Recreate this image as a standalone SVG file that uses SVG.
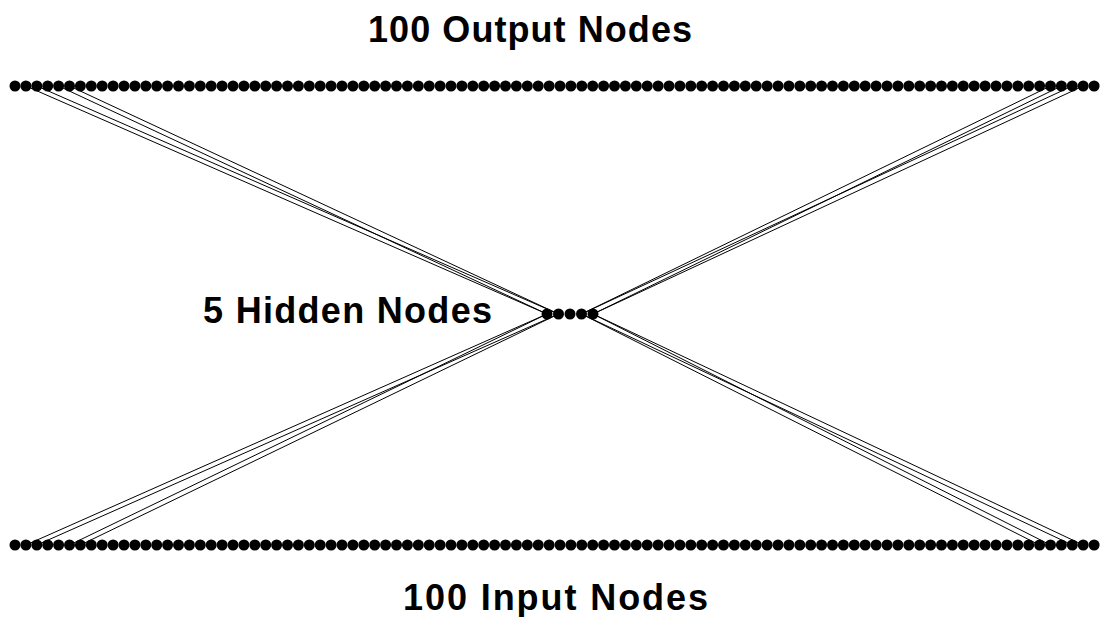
<svg xmlns="http://www.w3.org/2000/svg" xmlns:xlink="http://www.w3.org/1999/xlink" width="1107" height="617" viewBox="0 0 1107 617">
  <style>
    .n { fill: #000; }
    .c { stroke: #000; stroke-width: 1; fill: none; }
    .lbl { font-family: "Liberation Sans", Arial, sans-serif; font-weight: bold; font-size: 36px; fill: #000; }
  </style>
  <defs>
    <circle id="dot" r="5.5" cx="0" cy="0"/>
  </defs>
  <rect width="1107" height="617" fill="#fff"/>

  <!-- connections: a few sample links from edge units to the hidden layer -->
  <g id="connectors" class="c">
    <line x1="25.9" y1="86" x2="547" y2="314"/>
    <line x1="36.8" y1="86" x2="558.5" y2="314"/>
    <line x1="58.6" y1="86" x2="547" y2="314"/>
    <line x1="69.5" y1="86" x2="558.5" y2="314"/>
    <line x1="1050.5" y1="86" x2="581.5" y2="314"/>
    <line x1="1061.4" y1="86" x2="593" y2="314"/>
    <line x1="1072.3" y1="86" x2="581.5" y2="314"/>
    <line x1="1083.2" y1="86" x2="593" y2="314"/>
    <line x1="25.9" y1="545" x2="547" y2="314"/>
    <line x1="36.8" y1="545" x2="558.5" y2="314"/>
    <line x1="69.5" y1="545" x2="547" y2="314"/>
    <line x1="80.4" y1="545" x2="558.5" y2="314"/>
    <line x1="1039.6" y1="545" x2="581.5" y2="314"/>
    <line x1="1050.5" y1="545" x2="593" y2="314"/>
    <line x1="1072.3" y1="545" x2="581.5" y2="314"/>
    <line x1="1083.2" y1="545" x2="593" y2="314"/>
  </g>

  <!-- output layer -->
  <g id="output-layer" class="n">
    <use id="o0" href="#dot" x="15" y="86"/><use id="o1" href="#dot" x="25.9" y="86"/><use id="o2" href="#dot" x="36.8" y="86"/><use id="o3" href="#dot" x="47.7" y="86"/><use id="o4" href="#dot" x="58.6" y="86"/><use id="o5" href="#dot" x="69.5" y="86"/><use id="o6" href="#dot" x="80.4" y="86"/><use id="o7" href="#dot" x="91.3" y="86"/><use id="o8" href="#dot" x="102.2" y="86"/><use id="o9" href="#dot" x="113.1" y="86"/>
    <use id="o10" href="#dot" x="124" y="86"/><use id="o11" href="#dot" x="134.9" y="86"/><use id="o12" href="#dot" x="145.8" y="86"/><use id="o13" href="#dot" x="156.7" y="86"/><use id="o14" href="#dot" x="167.6" y="86"/><use id="o15" href="#dot" x="178.5" y="86"/><use id="o16" href="#dot" x="189.4" y="86"/><use id="o17" href="#dot" x="200.3" y="86"/><use id="o18" href="#dot" x="211.2" y="86"/><use id="o19" href="#dot" x="222.1" y="86"/>
    <use id="o20" href="#dot" x="233" y="86"/><use id="o21" href="#dot" x="243.9" y="86"/><use id="o22" href="#dot" x="254.8" y="86"/><use id="o23" href="#dot" x="265.7" y="86"/><use id="o24" href="#dot" x="276.6" y="86"/><use id="o25" href="#dot" x="287.5" y="86"/><use id="o26" href="#dot" x="298.4" y="86"/><use id="o27" href="#dot" x="309.3" y="86"/><use id="o28" href="#dot" x="320.2" y="86"/><use id="o29" href="#dot" x="331.1" y="86"/>
    <use id="o30" href="#dot" x="342" y="86"/><use id="o31" href="#dot" x="352.9" y="86"/><use id="o32" href="#dot" x="363.8" y="86"/><use id="o33" href="#dot" x="374.7" y="86"/><use id="o34" href="#dot" x="385.6" y="86"/><use id="o35" href="#dot" x="396.5" y="86"/><use id="o36" href="#dot" x="407.4" y="86"/><use id="o37" href="#dot" x="418.3" y="86"/><use id="o38" href="#dot" x="429.2" y="86"/><use id="o39" href="#dot" x="440.1" y="86"/>
    <use id="o40" href="#dot" x="451" y="86"/><use id="o41" href="#dot" x="461.9" y="86"/><use id="o42" href="#dot" x="472.8" y="86"/><use id="o43" href="#dot" x="483.7" y="86"/><use id="o44" href="#dot" x="494.6" y="86"/><use id="o45" href="#dot" x="505.5" y="86"/><use id="o46" href="#dot" x="516.4" y="86"/><use id="o47" href="#dot" x="527.3" y="86"/><use id="o48" href="#dot" x="538.2" y="86"/><use id="o49" href="#dot" x="549.1" y="86"/>
    <use id="o50" href="#dot" x="560" y="86"/><use id="o51" href="#dot" x="570.9" y="86"/><use id="o52" href="#dot" x="581.8" y="86"/><use id="o53" href="#dot" x="592.7" y="86"/><use id="o54" href="#dot" x="603.6" y="86"/><use id="o55" href="#dot" x="614.5" y="86"/><use id="o56" href="#dot" x="625.4" y="86"/><use id="o57" href="#dot" x="636.3" y="86"/><use id="o58" href="#dot" x="647.2" y="86"/><use id="o59" href="#dot" x="658.1" y="86"/>
    <use id="o60" href="#dot" x="669" y="86"/><use id="o61" href="#dot" x="679.9" y="86"/><use id="o62" href="#dot" x="690.8" y="86"/><use id="o63" href="#dot" x="701.7" y="86"/><use id="o64" href="#dot" x="712.6" y="86"/><use id="o65" href="#dot" x="723.5" y="86"/><use id="o66" href="#dot" x="734.4" y="86"/><use id="o67" href="#dot" x="745.3" y="86"/><use id="o68" href="#dot" x="756.2" y="86"/><use id="o69" href="#dot" x="767.1" y="86"/>
    <use id="o70" href="#dot" x="778" y="86"/><use id="o71" href="#dot" x="788.9" y="86"/><use id="o72" href="#dot" x="799.8" y="86"/><use id="o73" href="#dot" x="810.7" y="86"/><use id="o74" href="#dot" x="821.6" y="86"/><use id="o75" href="#dot" x="832.5" y="86"/><use id="o76" href="#dot" x="843.4" y="86"/><use id="o77" href="#dot" x="854.3" y="86"/><use id="o78" href="#dot" x="865.2" y="86"/><use id="o79" href="#dot" x="876.1" y="86"/>
    <use id="o80" href="#dot" x="887" y="86"/><use id="o81" href="#dot" x="897.9" y="86"/><use id="o82" href="#dot" x="908.8" y="86"/><use id="o83" href="#dot" x="919.7" y="86"/><use id="o84" href="#dot" x="930.6" y="86"/><use id="o85" href="#dot" x="941.5" y="86"/><use id="o86" href="#dot" x="952.4" y="86"/><use id="o87" href="#dot" x="963.3" y="86"/><use id="o88" href="#dot" x="974.2" y="86"/><use id="o89" href="#dot" x="985.1" y="86"/>
    <use id="o90" href="#dot" x="996" y="86"/><use id="o91" href="#dot" x="1006.9" y="86"/><use id="o92" href="#dot" x="1017.8" y="86"/><use id="o93" href="#dot" x="1028.7" y="86"/><use id="o94" href="#dot" x="1039.6" y="86"/><use id="o95" href="#dot" x="1050.5" y="86"/><use id="o96" href="#dot" x="1061.4" y="86"/><use id="o97" href="#dot" x="1072.3" y="86"/><use id="o98" href="#dot" x="1083.2" y="86"/><use id="o99" href="#dot" x="1094.1" y="86"/>
  </g>

  <!-- hidden layer -->
  <g id="hidden-layer" class="n">
    <use id="h0" href="#dot" x="547" y="314"/>
    <use id="h1" href="#dot" x="558.5" y="314"/>
    <use id="h2" href="#dot" x="570" y="314"/>
    <use id="h3" href="#dot" x="581.5" y="314"/>
    <use id="h4" href="#dot" x="593" y="314"/>
  </g>

  <!-- input layer -->
  <g id="input-layer" class="n">
    <use id="i0" href="#dot" x="15" y="545"/><use id="i1" href="#dot" x="25.9" y="545"/><use id="i2" href="#dot" x="36.8" y="545"/><use id="i3" href="#dot" x="47.7" y="545"/><use id="i4" href="#dot" x="58.6" y="545"/><use id="i5" href="#dot" x="69.5" y="545"/><use id="i6" href="#dot" x="80.4" y="545"/><use id="i7" href="#dot" x="91.3" y="545"/><use id="i8" href="#dot" x="102.2" y="545"/><use id="i9" href="#dot" x="113.1" y="545"/>
    <use id="i10" href="#dot" x="124" y="545"/><use id="i11" href="#dot" x="134.9" y="545"/><use id="i12" href="#dot" x="145.8" y="545"/><use id="i13" href="#dot" x="156.7" y="545"/><use id="i14" href="#dot" x="167.6" y="545"/><use id="i15" href="#dot" x="178.5" y="545"/><use id="i16" href="#dot" x="189.4" y="545"/><use id="i17" href="#dot" x="200.3" y="545"/><use id="i18" href="#dot" x="211.2" y="545"/><use id="i19" href="#dot" x="222.1" y="545"/>
    <use id="i20" href="#dot" x="233" y="545"/><use id="i21" href="#dot" x="243.9" y="545"/><use id="i22" href="#dot" x="254.8" y="545"/><use id="i23" href="#dot" x="265.7" y="545"/><use id="i24" href="#dot" x="276.6" y="545"/><use id="i25" href="#dot" x="287.5" y="545"/><use id="i26" href="#dot" x="298.4" y="545"/><use id="i27" href="#dot" x="309.3" y="545"/><use id="i28" href="#dot" x="320.2" y="545"/><use id="i29" href="#dot" x="331.1" y="545"/>
    <use id="i30" href="#dot" x="342" y="545"/><use id="i31" href="#dot" x="352.9" y="545"/><use id="i32" href="#dot" x="363.8" y="545"/><use id="i33" href="#dot" x="374.7" y="545"/><use id="i34" href="#dot" x="385.6" y="545"/><use id="i35" href="#dot" x="396.5" y="545"/><use id="i36" href="#dot" x="407.4" y="545"/><use id="i37" href="#dot" x="418.3" y="545"/><use id="i38" href="#dot" x="429.2" y="545"/><use id="i39" href="#dot" x="440.1" y="545"/>
    <use id="i40" href="#dot" x="451" y="545"/><use id="i41" href="#dot" x="461.9" y="545"/><use id="i42" href="#dot" x="472.8" y="545"/><use id="i43" href="#dot" x="483.7" y="545"/><use id="i44" href="#dot" x="494.6" y="545"/><use id="i45" href="#dot" x="505.5" y="545"/><use id="i46" href="#dot" x="516.4" y="545"/><use id="i47" href="#dot" x="527.3" y="545"/><use id="i48" href="#dot" x="538.2" y="545"/><use id="i49" href="#dot" x="549.1" y="545"/>
    <use id="i50" href="#dot" x="560" y="545"/><use id="i51" href="#dot" x="570.9" y="545"/><use id="i52" href="#dot" x="581.8" y="545"/><use id="i53" href="#dot" x="592.7" y="545"/><use id="i54" href="#dot" x="603.6" y="545"/><use id="i55" href="#dot" x="614.5" y="545"/><use id="i56" href="#dot" x="625.4" y="545"/><use id="i57" href="#dot" x="636.3" y="545"/><use id="i58" href="#dot" x="647.2" y="545"/><use id="i59" href="#dot" x="658.1" y="545"/>
    <use id="i60" href="#dot" x="669" y="545"/><use id="i61" href="#dot" x="679.9" y="545"/><use id="i62" href="#dot" x="690.8" y="545"/><use id="i63" href="#dot" x="701.7" y="545"/><use id="i64" href="#dot" x="712.6" y="545"/><use id="i65" href="#dot" x="723.5" y="545"/><use id="i66" href="#dot" x="734.4" y="545"/><use id="i67" href="#dot" x="745.3" y="545"/><use id="i68" href="#dot" x="756.2" y="545"/><use id="i69" href="#dot" x="767.1" y="545"/>
    <use id="i70" href="#dot" x="778" y="545"/><use id="i71" href="#dot" x="788.9" y="545"/><use id="i72" href="#dot" x="799.8" y="545"/><use id="i73" href="#dot" x="810.7" y="545"/><use id="i74" href="#dot" x="821.6" y="545"/><use id="i75" href="#dot" x="832.5" y="545"/><use id="i76" href="#dot" x="843.4" y="545"/><use id="i77" href="#dot" x="854.3" y="545"/><use id="i78" href="#dot" x="865.2" y="545"/><use id="i79" href="#dot" x="876.1" y="545"/>
    <use id="i80" href="#dot" x="887" y="545"/><use id="i81" href="#dot" x="897.9" y="545"/><use id="i82" href="#dot" x="908.8" y="545"/><use id="i83" href="#dot" x="919.7" y="545"/><use id="i84" href="#dot" x="930.6" y="545"/><use id="i85" href="#dot" x="941.5" y="545"/><use id="i86" href="#dot" x="952.4" y="545"/><use id="i87" href="#dot" x="963.3" y="545"/><use id="i88" href="#dot" x="974.2" y="545"/><use id="i89" href="#dot" x="985.1" y="545"/>
    <use id="i90" href="#dot" x="996" y="545"/><use id="i91" href="#dot" x="1006.9" y="545"/><use id="i92" href="#dot" x="1017.8" y="545"/><use id="i93" href="#dot" x="1028.7" y="545"/><use id="i94" href="#dot" x="1039.6" y="545"/><use id="i95" href="#dot" x="1050.5" y="545"/><use id="i96" href="#dot" x="1061.4" y="545"/><use id="i97" href="#dot" x="1072.3" y="545"/><use id="i98" href="#dot" x="1083.2" y="545"/><use id="i99" href="#dot" x="1094.1" y="545"/>
  </g>

  <!-- layer labels -->
  <g id="labels" class="lbl">
    <text x="368" y="42" textLength="324" lengthAdjust="spacing">100 Output Nodes</text>
    <text x="203" y="323" textLength="289" lengthAdjust="spacing">5 Hidden Nodes</text>
    <text x="403" y="610" textLength="305" lengthAdjust="spacing">100 Input Nodes</text>
  </g>
</svg>
